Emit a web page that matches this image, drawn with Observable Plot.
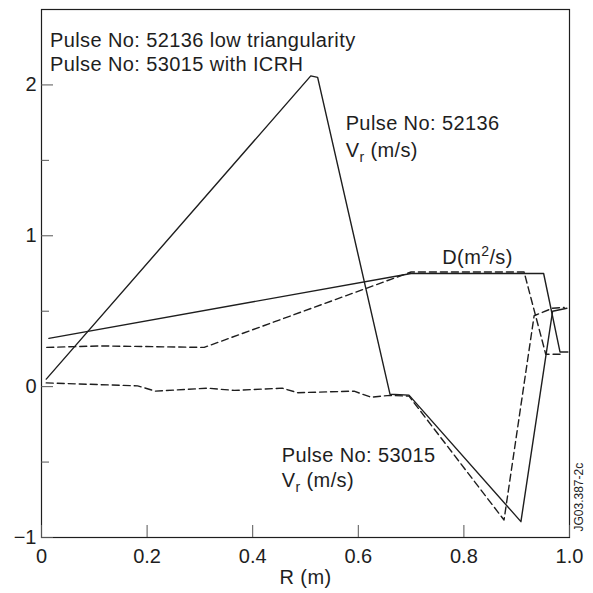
<!DOCTYPE html>
<html><head><meta charset="utf-8">
<script src="https://cdn.jsdelivr.net/npm/d3@7"></script>
<script src="https://cdn.jsdelivr.net/npm/@observablehq/plot@0.6"></script>
<style>
body{margin:0;background:#fff}
#chart svg{font-family:"Liberation Sans",Arial,Helvetica,sans-serif}
</style>
</head><body><div id="chart"></div>
<script>
// Pulse 52136 (solid) radial velocity Vr (m/s)
const vr52136R = [0.009, 0.51, 0.523, 0.660, 0.696, 0.908, 0.968, 0.995];
const vr52136V = [0.05, 2.06, 2.05, -0.05, -0.056, -0.895, 0.50, 0.52];
// Pulse 53015 (dashed) radial velocity Vr (m/s)
const vr53015R = [0.009, 0.182, 0.216, 0.314, 0.365, 0.456, 0.485, 0.592, 0.624, 0.660, 0.696, 0.876, 0.933, 0.968, 0.990];
const vr53015V = [0.025, 0.005, -0.03, -0.01, -0.025, -0.01, -0.04, -0.03, -0.07, -0.058, -0.063, -0.884, 0.47, 0.52, 0.525];
// Pulse 52136 (solid) diffusion D (m^2/s)
const d52136R = [0.014, 0.700, 0.951, 0.982, 0.997];
const d52136V = [0.32, 0.75, 0.75, 0.23, 0.23];
// Pulse 53015 (dashed) diffusion D (m^2/s)
const d53015R = [0.010, 0.112, 0.308, 0.700, 0.914, 0.955, 0.987];
const d53015V = [0.26, 0.27, 0.26, 0.76, 0.76, 0.215, 0.215];

const xTicks = [0, 0.2, 0.4, 0.6, 0.8, 1.0];
const xTickLabels = ["0", "0.2", "0.4", "0.6", "0.8", "1.0"];
const yTicks = [-1, 0, 1, 2];
const yTickLabels = ["\u22121", "0", "1", "2"];
const yMinorTicks = [-0.5, 0.5, 1.5];

const labelText = ["Pulse No: 52136 low triangularity", "Pulse No: 53015 with ICRH", "Pulse No: 52136", "Vr (m/s)", "D(m2/s)", "Pulse No: 53015", "Vr (m/s)"];
const labelR = [0.016, 0.016, 0.576, 0.576, 0.759, 0.455, 0.455];
const labelV = [2.25, 2.095, 1.70, 1.525, 0.81, -0.50, -0.665];

const toRows = (R, V, s) => R.map((r, i) => ({R: r, V: V[i], s}));
const solid = [...toRows(vr52136R, vr52136V, "vr52136"), ...toRows(d52136R, d52136V, "d52136")];
const dashed = [...toRows(vr53015R, vr53015V, "vr53015"), ...toRows(d53015R, d53015V, "d53015")];
const labels = labelText.map((t, i) => ({t, R: labelR[i], V: labelV[i]}));

const ink = "#1e1e1e";
const chart = Plot.plot({
  width: 593, height: 593,
  marginLeft: 41, marginRight: 24, marginTop: 9, marginBottom: 56,
  style: {fontFamily: "'Liberation Sans', Arial, sans-serif", background: "#fff"},
  x: {domain: [0, 1]},
  y: {domain: [-1, 2.5]},
  marks: [
    Plot.frame({stroke: ink, strokeWidth: 1.2}),
    Plot.axisX(xTicks, {tickSize: -12, tickFormat: () => "", stroke: "#555", label: null}),
    Plot.axisX(xTicks, {tickSize: 0, tickPadding: 11, tickFormat: (d, i) => xTickLabels[i], fontSize: 20, fill: ink, label: null}),
    Plot.axisY(yTicks, {tickSize: -12, tickFormat: () => "", stroke: "#555", label: null}),
    Plot.axisY(yMinorTicks, {tickSize: -8, tickFormat: () => "", stroke: "#555", label: null}),
    Plot.axisY(yTicks, {tickSize: 0, tickPadding: 5, tickFormat: (d, i) => yTickLabels[i], fontSize: 20, fill: ink, label: null}),
    Plot.line(solid, {x: "R", y: "V", z: "s", stroke: ink, strokeWidth: 1.4}),
    Plot.line(dashed, {x: "R", y: "V", z: "s", stroke: ink, strokeWidth: 1.4, strokeDasharray: "7,4"}),
    Plot.text(labels, {x: "R", y: "V", text: "t", textAnchor: "start", lineAnchor: "bottom", fontSize: 20, fill: ink}),
    Plot.text(["R (m)"], {frameAnchor: "bottom", dy: 46, lineAnchor: "bottom", fontSize: 20, fill: ink}),
    Plot.text(["JG03.387-2c"], {frameAnchor: "bottom-right", dx: 10, dy: -6, rotate: -90, textAnchor: "start", lineAnchor: "middle", fontSize: 12, fill: ink})
  ]
});
const ns = "http://www.w3.org/2000/svg";
const span = (txt, attrs = {}) => {
  const s = document.createElementNS(ns, "tspan");
  s.textContent = txt;
  for (const k in attrs) s.setAttribute(k, attrs[k]);
  return s;
};
chart.querySelectorAll("text").forEach(t => {
  if (t.textContent === "Vr (m/s)") {
    t.textContent = "";
    t.append(span("V"), span("r", {dy: "5", "font-size": "14"}), span(" (m/s)", {dy: "-5"}));
  } else if (t.textContent === "D(m2/s)") {
    t.textContent = "";
    t.append(span("D(m"), span("2", {dy: "-8", "font-size": "14"}), span("/s)", {dy: "8"}));
  }
});
chart.querySelectorAll("g[aria-label='text'] text").forEach(t => {
  if (t.textContent !== "JG03.387-2c") t.setAttribute("letter-spacing", "0.4");
});
document.getElementById("chart").append(chart);
</script>
</body></html>
